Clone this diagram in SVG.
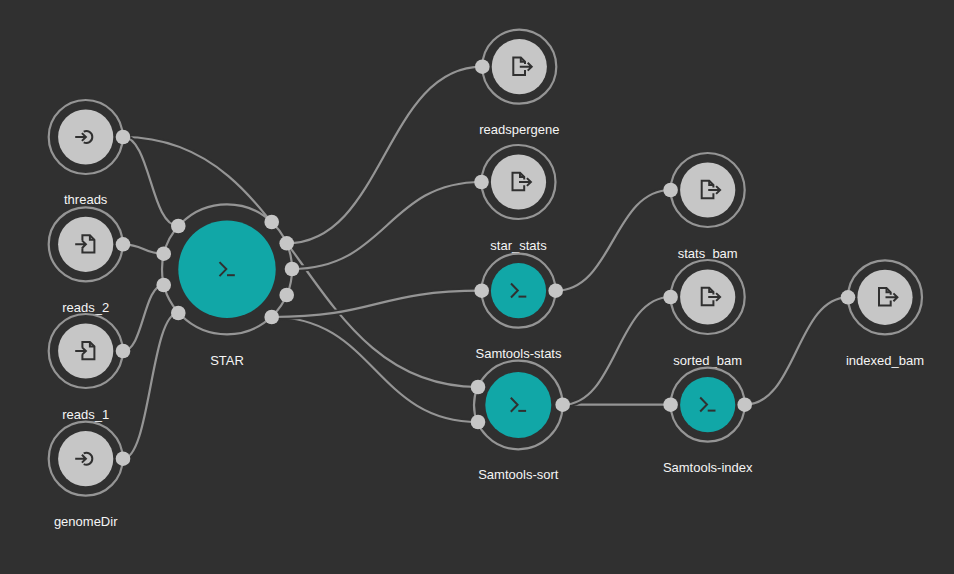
<svg xmlns="http://www.w3.org/2000/svg" xmlns:xlink="http://www.w3.org/1999/xlink" width="954" height="574" viewBox="0 0 954 574">
<style>
.case{fill:none;stroke:#303030;stroke-width:6}
.line{fill:none;stroke:#959595;stroke-width:2.2}
.ring{fill:#303030;stroke:#959595;stroke-width:2.2}
.in{fill:#c6c6c6}
.tool{fill:#11a7a7}
.port{fill:#c6c6c6}
.ic{fill:none;stroke:#303030;stroke-width:2}
text{font-family:"Liberation Sans",Arial,sans-serif;font-size:13px;fill:#f5f5f5;text-anchor:middle;stroke:#303030;stroke-width:3px;paint-order:stroke;stroke-linejoin:round}
</style>
<defs>
<g id="i-term" class="ic"><path d="M-7.5,-7.2L-0.7,-0.2L-7.5,6.8"/><path d="M0,5.9H7.8"/></g>
<g id="i-out" class="ic"><path d="M5.7,3.2V8.3H-6V-9.3H1.5L5.7,-5V-2.6"/><path d="M1.5,-9.3V-5H5.7"/><path d="M0.5,0H12.3M8.4,-3.9L12.4,0L8.4,3.9"/></g>
<g id="i-file" class="ic"><path d="M-3.3,-4V-9H4.2L8.7,-4.5V8.3H-3.3V4"/><path d="M4.2,-9V-4.5H8.7"/><path d="M-10.5,0H0M-3.8,-3.9L0.2,0L-3.8,3.9"/></g>
<g id="i-param" class="ic"><path d="M-2,-5.4A6,6 0 1 1 -2,5.4"/><path d="M-10.5,0H0M-3.8,-3.9L0.2,0L-3.8,3.9"/></g>
<path id="e1" d="M271.7,317C374.9,317 374.9,422 478,422"/>
<path id="e2" d="M123,137C300.5,137 300.5,387 478,387"/>
<path id="e3" d="M123,137C150.6,137 150.6,226 178.3,226"/>
<path id="e4" d="M123,244.3C143.4,244.3 143.4,253.7 163.7,253.7"/>
<path id="e5" d="M123,351C143.4,351 143.4,285 163.7,285"/>
<path id="e6" d="M123,458.7C150.6,458.7 150.6,313 178.3,313"/>
<path id="e7" d="M286.7,243.3C384.5,243.3 384.5,66.7 482.3,66.7"/>
<path id="e8" d="M292,269C386.8,269 386.8,182 481.5,182"/>
<path id="e9" d="M271.7,317C376.7,317 376.7,290.7 481.7,290.7"/>
<path id="e10" d="M555.7,290.7C613.1,290.7 613.1,190 670.6,190"/>
<path id="e11" d="M562.7,404.7H670.6"/>
<path id="e12" d="M562.7,404.7C616.6,404.7 616.6,297 670.6,297"/>
<path id="e13" d="M744.7,404.7C796.4,404.7 796.4,297.3 848,297.3"/>
</defs>
<rect width="954" height="574" fill="#303030"/>
<g id="connectors">
<use href="#e1" class="case"/><use href="#e1" class="line"/>
<use href="#e2" class="case"/><use href="#e2" class="line"/>
<use href="#e3" class="case"/><use href="#e3" class="line"/>
<use href="#e4" class="case"/><use href="#e4" class="line"/>
<use href="#e5" class="case"/><use href="#e5" class="line"/>
<use href="#e6" class="case"/><use href="#e6" class="line"/>
<use href="#e7" class="case"/><use href="#e7" class="line"/>
<use href="#e8" class="case"/><use href="#e8" class="line"/>
<use href="#e9" class="case"/><use href="#e9" class="line"/>
<use href="#e10" class="case"/><use href="#e10" class="line"/>
<use href="#e11" class="case"/><use href="#e11" class="line"/>
<use href="#e12" class="case"/><use href="#e12" class="line"/>
<use href="#e13" class="case"/><use href="#e13" class="line"/>
</g>
<g id="node-threads-input"><circle class="ring" cx="85.7" cy="137" r="37"/><circle class="in" cx="85.7" cy="137" r="27.6"/><use href="#i-param" x="85.7" y="137"/><circle class="port" cx="123" cy="137" r="7.3"/><text x="85.7" y="204">threads</text></g>
<g id="node-reads2"><circle class="ring" cx="85.7" cy="244.3" r="37"/><circle class="in" cx="85.7" cy="244.3" r="27.6"/><use href="#i-file" x="85.7" y="244.3"/><circle class="port" cx="123" cy="244.3" r="7.3"/><text x="85.7" y="312">reads_2</text></g>
<g id="node-reads1"><circle class="ring" cx="85.7" cy="351" r="37"/><circle class="in" cx="85.7" cy="351" r="27.6"/><use href="#i-file" x="85.7" y="351"/><circle class="port" cx="123" cy="351" r="7.3"/><text x="85.7" y="419">reads_1</text></g>
<g id="node-genomeDir"><circle class="ring" cx="85.7" cy="458.7" r="37"/><circle class="in" cx="85.7" cy="458.7" r="27.6"/><use href="#i-param" x="85.7" y="458.7"/><circle class="port" cx="123" cy="458.7" r="7.3"/><text x="85.7" y="526">genomeDir</text></g>
<g id="node-STAR"><circle class="ring" cx="227" cy="269.3" r="65"/><circle class="tool" cx="227" cy="269.3" r="48.7"/><use href="#i-term" x="227" y="269.3"/>
<circle class="port" cx="178.3" cy="226" r="7.3"/><circle class="port" cx="163.7" cy="253.7" r="7.3"/><circle class="port" cx="163.7" cy="285" r="7.3"/><circle class="port" cx="178.3" cy="313" r="7.3"/>
<circle class="port" cx="271.7" cy="222" r="7.3"/><circle class="port" cx="286.7" cy="243.3" r="7.3"/><circle class="port" cx="292" cy="269" r="7.3"/><circle class="port" cx="286.7" cy="295" r="7.3"/><circle class="port" cx="271.7" cy="317" r="7.3"/><text x="227" y="365">STAR</text></g>
<g id="node-readspergene"><circle class="ring" cx="519.3" cy="66.7" r="37"/><circle class="in" cx="519.3" cy="66.7" r="27.6"/><use href="#i-out" x="519.3" y="66.7"/><circle class="port" cx="482.3" cy="66.7" r="7.3"/><text x="519.3" y="134">readspergene</text></g>
<g id="node-star_stats"><circle class="ring" cx="518.5" cy="182" r="37"/><circle class="in" cx="518.5" cy="182" r="27.6"/><use href="#i-out" x="518.5" y="182"/><circle class="port" cx="481.5" cy="182" r="7.3"/><text x="518.5" y="249.7">star_stats</text></g>
<g id="node-Samtools-stats"><circle class="ring" cx="518.5" cy="290.7" r="37"/><circle class="tool" cx="518.5" cy="290.7" r="27.6"/><use href="#i-term" x="518.5" y="290.7"/><circle class="port" cx="481.7" cy="290.7" r="7.3"/><circle class="port" cx="555.7" cy="290.7" r="7.3"/><text x="518.5" y="358">Samtools-stats</text></g>
<g id="node-Samtools-sort"><circle class="ring" cx="518.3" cy="405" r="44.3"/><circle class="tool" cx="518.3" cy="405" r="33"/><use href="#i-term" x="518.3" y="405"/><circle class="port" cx="478" cy="387" r="7.3"/><circle class="port" cx="478" cy="422" r="7.3"/><circle class="port" cx="562.7" cy="404.7" r="7.3"/><text x="518.3" y="479">Samtools-sort</text></g>
<g id="node-stats_bam"><circle class="ring" cx="707.7" cy="190" r="37"/><circle class="in" cx="707.7" cy="190" r="27.6"/><use href="#i-out" x="707.7" y="190"/><circle class="port" cx="670.6" cy="190" r="7.3"/><text x="707.7" y="257.7">stats_bam</text></g>
<g id="node-sorted_bam"><circle class="ring" cx="707.7" cy="297" r="37"/><circle class="in" cx="707.7" cy="297" r="27.6"/><use href="#i-out" x="707.7" y="297"/><circle class="port" cx="670.6" cy="297" r="7.3"/><text x="707.7" y="365">sorted_bam</text></g>
<g id="node-Samtools-index"><circle class="ring" cx="707.7" cy="404.7" r="37"/><circle class="tool" cx="707.7" cy="404.7" r="27.6"/><use href="#i-term" x="707.7" y="404.7"/><circle class="port" cx="670.6" cy="404.7" r="7.3"/><circle class="port" cx="744.7" cy="404.7" r="7.3"/><text x="707.7" y="472">Samtools-index</text></g>
<g id="node-indexed_bam"><circle class="ring" cx="885" cy="297.3" r="37"/><circle class="in" cx="885" cy="297.3" r="27.6"/><use href="#i-out" x="885" y="297.3"/><circle class="port" cx="848" cy="297.3" r="7.3"/><text x="885" y="365">indexed_bam</text></g>
</svg>
